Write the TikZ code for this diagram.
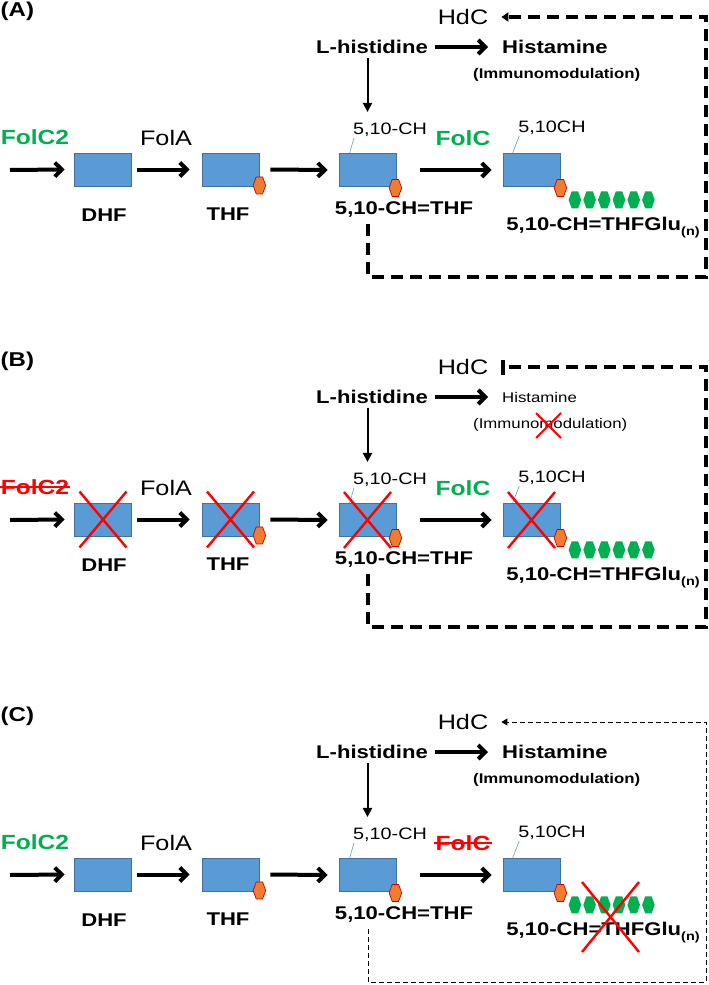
\documentclass[tikz,border=0pt]{standalone}
\usepackage{fontspec}
\setmainfont{Liberation Sans}[FakeStretch=1.2]
\usetikzlibrary{arrows.meta}

\definecolor{folblue}{HTML}{5B9BD5}
\definecolor{foledge}{HTML}{41719C}
\definecolor{glugreen}{HTML}{00B050}
\definecolor{pteorange}{HTML}{ED7D31}
\definecolor{pteedge}{HTML}{D00000}

\tikzset{
  folate/.style={draw=foledge, fill=folblue, line width=0.8pt, minimum width=57pt, minimum height=33pt, inner sep=0pt},
  bigarrow/.style={line width=4pt, -{Straight Barb[length=7pt,width=14pt]}},
  thinarrow/.style={line width=2pt, -{Triangle[length=9pt,width=9pt]}},
  leader/.style={draw=folblue, line width=0.6pt},
  cross/.style={draw=red, line width=2.4pt},
  strike/.style={draw=red, line width=1.6pt},
  pte/.style={fill=pteorange, draw=pteedge, line width=0.7pt},
  glu/.style={fill=glugreen},
  enz/.style={inner sep=1pt, font=\fontsize{21}{24}\selectfont},
  enzb/.style={inner sep=1pt, font=\bfseries\fontsize{20.5}{24}\selectfont},
  metab/.style={inner sep=1pt, font=\bfseries\fontsize{18.4}{22}\selectfont},
  sitelabel/.style={inner sep=1pt, font=\fontsize{16.5}{20}\selectfont},
  tag/.style={inner sep=0pt, font=\bfseries\fontsize{20}{24}\selectfont},
  hexa/.pic={\path[pic actions] (-6.3,0) -- (-3.2,-8.5) -- (3.2,-8.5) -- (6.3,0) -- (3.2,8.5) -- (-3.2,8.5) -- cycle;},
  % what changes from panel to panel
  fc2A/.style={text=glugreen}, fc2B/.style={text=red}, fc2C/.style={text=glugreen},
  fcA/.style={text=glugreen}, fcB/.style={text=glugreen}, fcC/.style={text=red},
  histA/.style={metab}, histB/.style={inner sep=1pt, font=\fontsize{14}{16}\selectfont}, histC/.style={metab},
  immA/.style={inner sep=1pt, font=\bfseries\fontsize{14}{16}\selectfont},
  immB/.style={inner sep=1pt, font=\fontsize{14}{16}\selectfont},
  immC/.style={immA},
  loopA/.style={line width=3.2pt, dash pattern=on 12pt off 7pt, -{Triangle[length=7pt,width=9pt]}},
  loopB/.style={line width=3.2pt, dash pattern=on 12pt off 7pt, -{Bar[width=15pt]}},
  loopC/.style={line width=1pt, dash pattern=on 5pt off 3pt, -{Triangle[length=6pt,width=7pt]}},
}

\begin{document}
\begin{tikzpicture}[x=1pt, y=-1pt]
    \useasboundingbox (0,0) rectangle (709,985);
    \foreach \p/\dy in {A/0, B/350, C/705} {
      \begin{scope}[shift={(0,\dy)}]
        % Panel letter
        \node[tag, anchor=west] (tag\p) at (0.5,11) {(\p)};
        % Histidine branch
        \node[enz] (hdc\p) at (463,17) {HdC};
        \node[metab] (lhis\p) at (372,47) {L-histidine};
        \node[hist\p, anchor=west] (hist\p) at (501,47) {Histamine};
        \node[imm\p, anchor=west] (imm\p) at (472,75) {(Immunomodulation)};
        \draw[bigarrow] ([xshift=6pt]lhis\p.east) -- ([xshift=-13pt]hist\p.west);
        % Folate chain
        \node[folate] (r1\p) at (103,169.5) {};
        \node[folate] (r2\p) at (230.5,169.5) {};
        \node[folate] (r3\p) at (367.5,170) {};
        \node[folate] (r4\p) at (531.5,170) {};
        \node[enzb, fc2\p] (fc2\p) at (35,137) {FolC2};
        \node[enz] (fola\p) at (166,138) {FolA};
        \node[enzb, fc\p] (fc\p) at (463,138) {FolC};
        \node[sitelabel] (ch3\p) at (390,130) {5,10-CH};
        \node[sitelabel] (ch4\p) at (552,128) {5,10CH};
        \node[metab] (dhf\p) at (104,215) {DHF};
        \node[metab] (thf\p) at (228,214) {THF};
        \node[metab] (mthf\p) at (404,209) {5,10-CH=THF};
        \node[metab] (glun\p) at (603,228) {5,10-CH=THFGlu{\fontsize{12}{12}\selectfont\raisebox{-5pt}{(n)}}};
        \coordinate (in\p) at (10,170);
        \draw[bigarrow] (in\p) -- ([xshift=-9.5pt]r1\p.west);
        \draw[bigarrow] ([xshift=5.5pt]r1\p.east) -- ([xshift=-12pt]r2\p.west);
        \draw[bigarrow] ([xshift=11pt]r2\p.east) -- ([xshift=-11pt]r3\p.west);
        \draw[bigarrow] ([xshift=24pt]r3\p.east) -- ([xshift=-11pt]r4\p.west);
        \draw[thinarrow] ([xshift=-4.5pt, yshift=-3pt]lhis\p.south) -- ([xshift=-4.5pt, yshift=10pt]lhis\p.south |- ch3\p.north);
        \draw[leader] ([xshift=11pt]r3\p.north west) -- ([xshift=2pt]ch3\p.south west);
        \draw[leader] ([xshift=10pt]r4\p.north west) -- ([xshift=2pt]ch4\p.south west);
        % Glutamate tail
        \pic[pte] at ([yshift=1pt]r2\p.south east) {hexa};
        \pic[pte] at ([xshift=-1pt, yshift=-1pt]r3\p.south east) {hexa};
        \pic[pte] at ([yshift=-1pt]r4\p.south east) {hexa};
        \foreach \i in {0,...,5}
          \pic[glu] at ([shift={(14.5+14.7*\i,13)}]r4\p.south east) {hexa};
        % Feedback to HdC
        \coordinate (ds\p) at (368,224);
        \coordinate (dc\p) at (706,277);
        \draw[loop\p, shorten >=12pt] (ds\p) |- (dc\p) |- (hdc\p);
      \end{scope}
    }
    % Panel B: FolC2 knocked out
    \draw[strike] (fc2B.west) -- (fc2B.east);
    \foreach \r in {r1B, r2B, r3B, r4B}
      \draw[cross] ([shift={(-23.5,-28)}]\r.center) -- ([shift={(23.5,28)}]\r.center)
                   ([shift={(23.5,-28)}]\r.center) -- ([shift={(-23.5,28)}]\r.center);
    \draw[cross, line width=2pt] (536,413) -- (561,438) (561,413) -- (536,438);
    % Panel C: FolC knocked out
    \draw[strike] (fcC.west) -- (fcC.east);
    \draw[cross] (582,882) -- (639,952) (639,882) -- (582,952);
\end{tikzpicture}
\end{document}
